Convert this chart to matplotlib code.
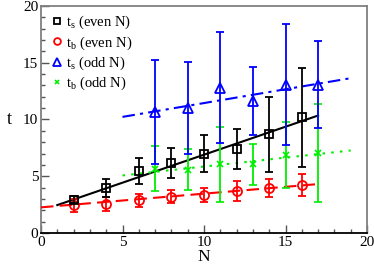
import matplotlib
matplotlib.use("Agg")
import matplotlib.pyplot as plt
import numpy as np
from matplotlib.ticker import MultipleLocator

plt.rcParams['font.family'] = ['Liberation Serif', 'DejaVu Serif']
plt.rcParams['mathtext.fontset'] = 'custom'
plt.rcParams['mathtext.rm'] = 'Liberation Serif'
plt.rcParams['mathtext.it'] = 'Liberation Serif:italic'

# even N
N_even = [2, 4, 6, 8, 10, 12, 14, 16]
ts_even = [2.93, 3.96, 5.45, 6.16, 7.0, 7.4, 8.68, 10.18]
ts_even_err = [0.3, 0.8, 1.15, 1.35, 1.6, 1.75, 3.3, 4.4]
tb_even = [2.43, 2.58, 2.87, 3.2, 3.34, 3.7, 3.93, 4.19]
tb_even_err = [0.6, 0.6, 0.55, 0.6, 0.6, 0.85, 0.8, 0.97]

# odd N
N_odd = [7, 9, 11, 13, 15, 17]
ts_odd = [10.65, 11.0, 12.8, 11.64, 13.08, 13.08]
ts_odd_err = [4.6, 4.07, 4.9, 3.0, 5.35, 3.8]
tb_odd = [5.66, 5.57, 6.07, 6.07, 6.9, 7.04]
tb_odd_err = [2.0, 1.8, 3.3, 1.8, 2.9, 4.3]

# linear fits: (x range, endpoints)
fit_ts_even_x = [1, 17]
fit_ts_even_y = [2.46, 10.35]
fit_tb_even_x = [0, 17]
fit_tb_even_y = [2.26, 4.31]
fit_ts_odd_x = [5, 19]
fit_ts_odd_y = [10.23, 13.64]
fit_tb_odd_x = [5, 19]
fit_tb_odd_y = [5.07, 7.27]

fig = plt.figure(figsize=(3.74, 2.67), dpi=100)
ax = fig.add_axes([41/374, 1-233/267, (367-41)/374, (233-6)/267])

lw = 1.3
ax.plot(fit_ts_even_x, fit_ts_even_y, color='black', lw=1.5, zorder=3)
ax.plot(fit_tb_even_x, fit_tb_even_y, color='red', lw=1.5, ls=(0, (6, 3)), zorder=3)
ax.plot(fit_ts_odd_x, fit_ts_odd_y, color='blue', lw=1.5, ls=(0, (6, 2.5, 1.5, 2.5)), zorder=3)
ax.plot(fit_tb_odd_x, fit_tb_odd_y, color='#00ee00', lw=1.5, ls=(0, (1.2, 3)), zorder=3)

ax.errorbar(N_odd, tb_odd, yerr=tb_odd_err, fmt='x', color='#00ee00', ms=4, mew=1.2,
            elinewidth=lw, capsize=3, capthick=lw, label=r'$\mathrm{t_b}$ (odd N)', zorder=4)
ax.errorbar(N_odd, ts_odd, yerr=ts_odd_err, fmt='^', color='blue', mfc='none', ms=7, mew=1.3,
            elinewidth=lw, capsize=3, capthick=lw, label=r'$\mathrm{t_s}$ (odd N)', zorder=5)
ax.errorbar(N_even, tb_even, yerr=tb_even_err, fmt='o', color='red', mfc='none', ms=6.5, mew=1.3,
            elinewidth=lw, capsize=3, capthick=lw, label=r'$\mathrm{t_b}$ (even N)', zorder=6)
ax.errorbar(N_even, ts_even, yerr=ts_even_err, fmt='s', color='black', mfc='none', ms=6, mew=1.3,
            elinewidth=lw, capsize=3, capthick=lw, label=r'$\mathrm{t_s}$ (even N)', zorder=7)

ax.set_xlim(0, 20)
ax.set_ylim(0, 20)
ax.xaxis.set_major_locator(MultipleLocator(5))
ax.yaxis.set_major_locator(MultipleLocator(5))
ax.xaxis.set_minor_locator(MultipleLocator(1))
ax.yaxis.set_minor_locator(MultipleLocator(1))
ax.tick_params(which='both', direction='in', labelsize=11, top=False, right=False, color='#555555')
ax.tick_params(which='major', length=6, width=1)
ax.tick_params(which='minor', length=3, width=1)
ax.tick_params(axis='x', pad=2)
ax.tick_params(axis='y', pad=2)
for s in ['left', 'top', 'right']:
    ax.spines[s].set_color('#808080')
    ax.spines[s].set_linewidth(1.3)
ax.spines['bottom'].set_color('black')
ax.spines['bottom'].set_linewidth(1.3)

ax.set_xlabel('N', fontsize=12.5, labelpad=0)
ax.set_ylabel('t', fontsize=13, rotation=0, labelpad=10, va='center')

handles, labels = ax.get_legend_handles_labels()
order = [3, 2, 1, 0]
leg = ax.legend([handles[i][0] for i in order], [labels[i] for i in order],
                loc='upper left', bbox_to_anchor=(0.031, 0.965), frameon=False, fontsize=10.5,
                handlelength=0.8, handletextpad=0.2, labelspacing=0.2, borderaxespad=0.0,
                borderpad=0.0, markerscale=0.75)

fig.savefig('out.png', dpi=100)
